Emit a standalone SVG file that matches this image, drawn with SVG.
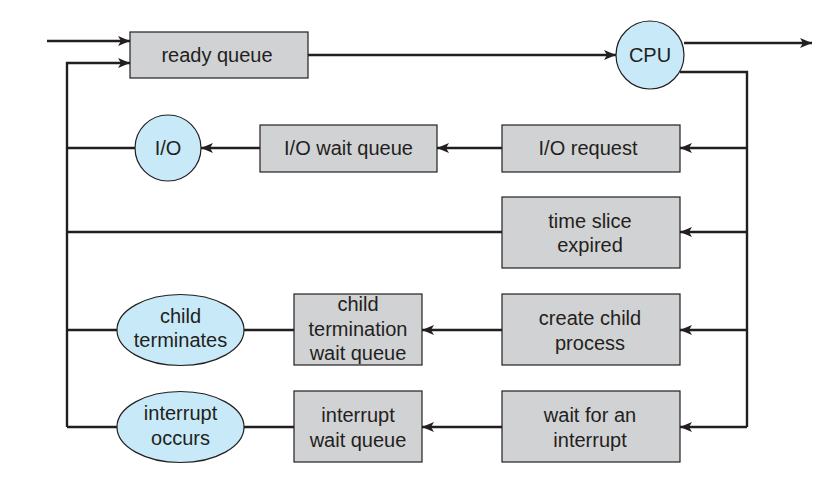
<svg xmlns="http://www.w3.org/2000/svg" width="834" height="479" viewBox="0 0 834 479">
<defs>
<style>
.box{fill:#d1d2d4;stroke:#231f20;stroke-width:1.2}
.circ{fill:#c8e9f8;stroke:#231f20;stroke-width:1.2}
.ln{fill:none;stroke:#231f20;stroke-width:2.4}
text{font-family:"Liberation Sans",Arial,sans-serif;font-size:20px;fill:#231f20;text-anchor:middle}
</style>
<marker id="ah" viewBox="0 0 12 10" refX="12" refY="5" markerWidth="12" markerHeight="10" markerUnits="userSpaceOnUse" orient="auto">
<path d="M0,0 L12,5 L0,10 L3,5 Z" fill="#231f20"/>
</marker>
</defs>
<g id="connectors">
<path class="ln" d="M47,41 H130" marker-end="url(#ah)"/>
<path class="ln" d="M67,427 V63 H130" marker-end="url(#ah)"/>
<path class="ln" d="M308,55 H616" marker-end="url(#ah)"/>
<path class="ln" d="M684,43 H812" marker-end="url(#ah)"/>
<path class="ln" d="M680,72 H747 V427"/>
<path class="ln" d="M747,148 H680" marker-end="url(#ah)"/>
<path class="ln" d="M747,232 H680" marker-end="url(#ah)"/>
<path class="ln" d="M747,330 H680" marker-end="url(#ah)"/>
<path class="ln" d="M747,427 H680" marker-end="url(#ah)"/>
<path class="ln" d="M502,148 H437" marker-end="url(#ah)"/>
<path class="ln" d="M260,148 H201" marker-end="url(#ah)"/>
<path class="ln" d="M135,148 H67"/>
<path class="ln" d="M502,232 H67"/>
<path class="ln" d="M502,330 H422" marker-end="url(#ah)"/>
<path class="ln" d="M294,330 H244"/>
<path class="ln" d="M117,330 H67"/>
<path class="ln" d="M502,427 H422" marker-end="url(#ah)"/>
<path class="ln" d="M294,427 H244"/>
<path class="ln" d="M117,427 H67"/>
</g>
<g id="ready-queue"><rect class="box" x="130" y="32" width="178" height="46"/><text x="217" y="62">ready queue</text></g>
<g id="cpu"><circle class="circ" cx="650" cy="55" r="34"/><text x="650" y="62">CPU</text></g>
<g id="io"><circle class="circ" cx="168" cy="148" r="33"/><text x="168" y="155">I/O</text></g>
<g id="io-wait-queue"><rect class="box" x="260" y="125" width="177" height="47"/><text x="348.5" y="155">I/O wait queue</text></g>
<g id="io-request"><rect class="box" x="502" y="125" width="178" height="47"/><text x="588" y="155">I/O request</text></g>
<g id="time-slice"><rect class="box" x="502" y="197" width="178" height="71"/><text x="590" y="228">time slice</text><text x="590" y="252">expired</text></g>
<g id="create-child"><rect class="box" x="502" y="294" width="178" height="71"/><text x="590" y="325">create child</text><text x="590" y="350">process</text></g>
<g id="wait-interrupt"><rect class="box" x="502" y="391" width="178" height="71"/><text x="590" y="422">wait for an</text><text x="590" y="447">interrupt</text></g>
<g id="child-termination-wait-queue"><rect class="box" x="294" y="294" width="128" height="71"/><text x="358" y="311">child</text><text x="358" y="336">termination</text><text x="358" y="360">wait queue</text></g>
<g id="interrupt-wait-queue"><rect class="box" x="294" y="391" width="128" height="71"/><text x="358" y="422">interrupt</text><text x="358" y="447">wait queue</text></g>
<g id="child-terminates"><ellipse class="circ" cx="180.5" cy="330" rx="63.5" ry="35.5"/><text x="180.5" y="323">child</text><text x="180.5" y="347">terminates</text></g>
<g id="interrupt-occurs"><ellipse class="circ" cx="180.5" cy="427" rx="63.5" ry="35.5"/><text x="180.5" y="420">interrupt</text><text x="180.5" y="445">occurs</text></g>
</svg>
